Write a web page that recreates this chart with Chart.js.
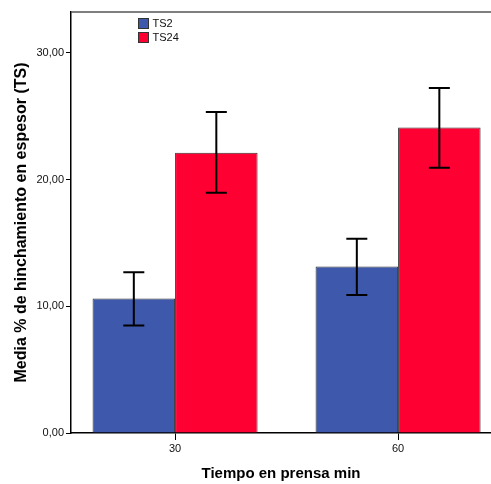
<!DOCTYPE html>
<html lang="es">
<head>
    <meta charset="UTF-8">
    <title>Hinchamiento en espesor</title>
    <script src="https://cdn.jsdelivr.net/npm/chart.js"></script>
    <style>
        html, body { margin: 0; padding: 0; background: #fff; }
        #wrap { width: 491px; height: 484px; }
    </style>
</head>
<body>
<div id="wrap"><canvas id="grafico" width="491" height="484"></canvas></div>
<script>
    // datos
    const tiempos = [30, 60];
    const ts2 = [10.62, 13.14];
    const ts2Bajo = [8.48, 10.90];
    const ts2Alto = [12.69, 15.34];
    const ts24 = [22.12, 24.12];
    const ts24Bajo = [18.96, 20.93];
    const ts24Alto = [25.33, 27.23];
    const ticksY = [0, 10, 20, 30];

    const azul = '#3e58ac';
    const rojo = '#ff0033';

    function puntos(valores) {
        return tiempos.map((t, i) => ({ x: t, y: valores[i] }));
    }

    const errores = [[ts2Bajo, ts2Alto], [ts24Bajo, ts24Alto]];

    // barras de error
    const barrasError = {
        id: 'barrasError',
        afterDatasetsDraw(chart) {
            const ctx = chart.ctx;
            const y = chart.scales.y;
            ctx.save();
            ctx.strokeStyle = '#000';
            ctx.lineWidth = 2;
            chart.data.datasets.forEach((ds, i) => {
                const meta = chart.getDatasetMeta(i);
                meta.data.forEach((bar, j) => {
                    const y1 = y.getPixelForValue(errores[i][0][j]);
                    const y2 = y.getPixelForValue(errores[i][1][j]);
                    ctx.beginPath();
                    ctx.moveTo(bar.x, y1);
                    ctx.lineTo(bar.x, y2);
                    ctx.moveTo(bar.x - 10.5, y1);
                    ctx.lineTo(bar.x + 10.5, y1);
                    ctx.moveTo(bar.x - 10.5, y2);
                    ctx.lineTo(bar.x + 10.5, y2);
                    ctx.stroke();
                });
            });
            ctx.restore();
        }
    };

    // marco superior y leyenda dentro del area
    const marcoLeyenda = {
        id: 'marcoLeyenda',
        afterDraw(chart) {
            const ctx = chart.ctx;
            const a = chart.chartArea;
            ctx.save();
            ctx.strokeStyle = '#555';
            ctx.lineWidth = 1.5;
            ctx.beginPath();
            ctx.moveTo(a.left, a.top);
            ctx.lineTo(a.right, a.top);
            ctx.stroke();

            ctx.font = '11px "Liberation Sans", Arial, sans-serif';
            ctx.textBaseline = 'middle';
            chart.data.datasets.forEach((ds, i) => {
                const bx = a.left + 67.5;
                const by = a.top + 6.5 + i * 14;
                ctx.fillStyle = ds.backgroundColor;
                ctx.fillRect(bx, by, 10, 10);
                ctx.strokeStyle = '#333';
                ctx.lineWidth = 1;
                ctx.strokeRect(bx, by, 10, 10);
                ctx.fillStyle = '#111';
                ctx.fillText(ds.label, bx + 14, by + 5.5);
            });
            ctx.restore();
        }
    };

    new Chart(document.getElementById('grafico'), {
        type: 'bar',
        data: {
            datasets: [
                { label: 'TS2', data: puntos(ts2), backgroundColor: azul, borderColor: '#333', borderWidth: 1 },
                { label: 'TS24', data: puntos(ts24), backgroundColor: rojo, borderColor: '#333', borderWidth: 1 }
            ]
        },
        options: {
            responsive: false,
            animation: false,
            layout: { padding: { top: 12, left: 0, right: 0, bottom: 0 } },
            datasets: { bar: { categoryPercentage: 0.74, barPercentage: 1 } },
            plugins: { legend: { display: false }, tooltip: { enabled: false } },
            scales: {
                x: {
                    type: 'linear',
                    offset: false,
                    min: 16,
                    max: 72.5,
                    afterBuildTicks: s => { s.ticks = tiempos.map(v => ({ value: v })); },
                    afterFit: s => { s.height = 51; },
                    grid: { display: true, offset: false, drawOnChartArea: false, drawTicks: true, tickLength: 7, tickColor: '#000', tickWidth: 1 },
                    border: { color: '#000', width: 1.5 },
                    ticks: { color: '#111', padding: 2, font: { family: '"Liberation Sans", Arial', size: 11 } },
                    title: {
                        display: true,
                        text: 'Tiempo en prensa min',
                        color: '#000',
                        padding: { top: 0, bottom: 1 },
                        font: { family: '"Liberation Sans", Arial', size: 15, weight: 'bold' }
                    }
                },
                y: {
                    min: 0,
                    max: 33.23,
                    afterBuildTicks: s => { s.ticks = ticksY.map(v => ({ value: v })); },
                    afterFit: s => { s.width = 71; },
                    grid: { display: true, drawOnChartArea: false, drawTicks: true, tickLength: 5, tickColor: '#000', tickWidth: 1 },
                    border: { color: '#000', width: 1.5 },
                    ticks: {
                        color: '#111',
                        padding: 2,
                        font: { family: '"Liberation Sans", Arial', size: 11 },
                        callback: v => v.toFixed(2).replace('.', ',')
                    },
                    title: {
                        display: true,
                        text: 'Media % de hinchamiento en espesor (TS)',
                        color: '#000',
                        padding: { top: 12, bottom: 0 },
                        font: { family: '"Liberation Sans", Arial', size: 16, weight: 'bold' }
                    }
                }
            }
        },
        plugins: [barrasError, marcoLeyenda]
    });
</script>
</body>
</html>
